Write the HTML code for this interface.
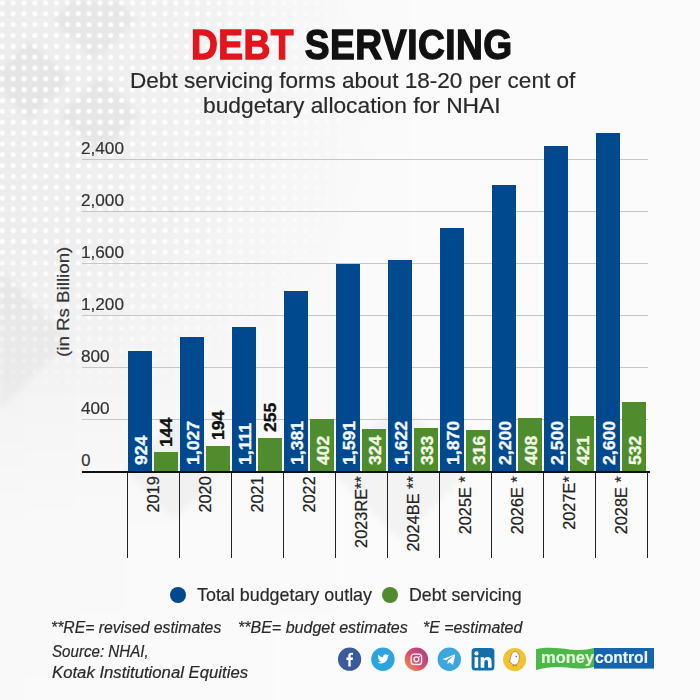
<!DOCTYPE html>
<html><head><meta charset="utf-8"><title>Debt Servicing</title>
<style>
html,body{margin:0;padding:0;}
body{width:700px;height:700px;position:relative;overflow:hidden;font-family:"Liberation Sans", sans-serif;background:#fbfbfb;}
.t{position:absolute;white-space:nowrap;transform-origin:0 0;-webkit-text-stroke:0.2px currentColor;}
.r{position:absolute;}
#bg{position:absolute;left:0;top:0;width:700px;height:700px;
 background: linear-gradient(90deg, rgba(0,0,0,0.03) 0px, rgba(0,0,0,0.02) 150px, rgba(0,0,0,0.008) 300px, rgba(0,0,0,0) 450px);
 -webkit-mask-image: linear-gradient(180deg, #000 0px, #000 380px, rgba(0,0,0,0.3) 520px, rgba(0,0,0,0.2) 700px);
 mask-image: linear-gradient(180deg, #000 0px, #000 380px, rgba(0,0,0,0.3) 520px, rgba(0,0,0,0.2) 700px);}
#shapes{position:absolute;left:0;top:0;width:700px;height:700px;filter:blur(2.5px);}
#dots{position:absolute;left:0;top:0;width:700px;height:700px;
 background-image: radial-gradient(circle, rgba(255,255,255,1) 1.9px, rgba(255,255,255,0) 3.2px);
 background-color: rgba(0,0,0,0.026);
 background-size:10.85px 10.85px; background-position:-3.1px -2.5px;
 -webkit-mask-image: radial-gradient(ellipse 300px 300px at 80px 110px, #000 0%, rgba(0,0,0,0.8) 50%, rgba(0,0,0,0) 100%);
 mask-image: radial-gradient(ellipse 300px 300px at 80px 110px, #000 0%, rgba(0,0,0,0.8) 50%, rgba(0,0,0,0) 100%);}
</style></head><body>
<div id="bg"></div><svg id="shapes" width="700" height="700" viewBox="0 0 700 700"><g fill="#000" fill-opacity="0.032"><polygon points="95,-22 137,20 95,62 53,20"/><polygon points="30,40 70,80 30,120 -10,80"/><polygon points="100,75 140,115 100,155 60,115"/><polygon points="0,270 70,340 0,410"/><polygon points="175,420 225,470 175,520 125,470"/><polygon points="400,400 470,470 400,540 330,470"/></g></svg><div id="dots"></div>
<div class="t" style="left:191.20px;top:23.33px;font-size:43.2px;line-height:43.2px;color:#111;font-weight:bold;font-style:normal;transform:scaleX(0.86);transform-origin:0 0;-webkit-text-stroke:1.4px currentColor;letter-spacing:0.55px;"><span style="color:#e3141b;-webkit-text-stroke:1.4px #e3141b">DEBT</span> SERVICING</div>
<div class="t" style="left:129.60px;top:70.58px;font-size:21.4px;line-height:21.4px;color:#2a2a2a;font-weight:normal;font-style:normal;transform:scaleX(1.055);transform-origin:0 0;">Debt servicing forms about 18-20 per cent of</div>
<div class="t" style="left:202.60px;top:96.28px;font-size:21.4px;line-height:21.4px;color:#2a2a2a;font-weight:normal;font-style:normal;transform:scaleX(1.065);transform-origin:0 0;">budgetary allocation for NHAI</div>
<div class="r" style="left:82px;top:419px;width:566px;height:1px;background:#c6c6c6"></div>
<div class="t" style="left:80.60px;top:400.03px;font-size:16.5px;line-height:16.5px;color:#333;font-weight:normal;font-style:normal;transform:scaleX(1.04);transform-origin:0 0;">400</div>
<div class="r" style="left:82px;top:367px;width:566px;height:1px;background:#c6c6c6"></div>
<div class="t" style="left:80.60px;top:348.03px;font-size:16.5px;line-height:16.5px;color:#333;font-weight:normal;font-style:normal;transform:scaleX(1.04);transform-origin:0 0;">800</div>
<div class="r" style="left:82px;top:315px;width:566px;height:1px;background:#c6c6c6"></div>
<div class="t" style="left:80.60px;top:296.03px;font-size:16.5px;line-height:16.5px;color:#333;font-weight:normal;font-style:normal;transform:scaleX(1.04);transform-origin:0 0;">1,200</div>
<div class="r" style="left:82px;top:263px;width:566px;height:1px;background:#c6c6c6"></div>
<div class="t" style="left:80.60px;top:244.03px;font-size:16.5px;line-height:16.5px;color:#333;font-weight:normal;font-style:normal;transform:scaleX(1.04);transform-origin:0 0;">1,600</div>
<div class="r" style="left:82px;top:211px;width:566px;height:1px;background:#c6c6c6"></div>
<div class="t" style="left:80.60px;top:192.03px;font-size:16.5px;line-height:16.5px;color:#333;font-weight:normal;font-style:normal;transform:scaleX(1.04);transform-origin:0 0;">2,000</div>
<div class="r" style="left:82px;top:159px;width:566px;height:1px;background:#c6c6c6"></div>
<div class="t" style="left:80.60px;top:140.03px;font-size:16.5px;line-height:16.5px;color:#333;font-weight:normal;font-style:normal;transform:scaleX(1.04);transform-origin:0 0;">2,400</div>
<div class="t" style="left:81.30px;top:452.03px;font-size:16.5px;line-height:16.5px;color:#333;font-weight:normal;font-style:normal;transform:scaleX(1.0);">0</div>
<div class="r" style="left:128px;top:350.88px;width:24px;height:120.12px;background:#00498f"></div>
<div class="r" style="left:154px;top:452.28px;width:24px;height:18.72px;background:#4e8c2e"></div>
<div class="r" style="left:127px;top:472px;width:1px;height:86px;background:#222"></div>
<div class="t" style="left:133.06px;top:464.90px;font-size:17.3px;line-height:17.3px;color:#f4f8ff;font-weight:bold;transform-origin:0 0;transform:rotate(-90deg) scaleX(1.02);-webkit-text-stroke:0.35px currentColor;">924</div>
<div class="t" style="left:158.36px;top:446.78px;font-size:17.3px;line-height:17.3px;color:#111;font-weight:bold;transform-origin:0 0;transform:rotate(-90deg) scaleX(1.02);-webkit-text-stroke:0.35px currentColor;">144</div>
<div class="t" style="left:145.23px;top:595.10px;width:120px;text-align:right;font-size:16.5px;line-height:16.5px;color:#222;font-weight:normal;transform-origin:0 0;transform:rotate(-90deg) scaleX(0.99);transform-origin:0 0;">2019</div>
<div class="r" style="left:180px;top:337.49px;width:24px;height:133.51px;background:#00498f"></div>
<div class="r" style="left:206px;top:445.78px;width:24px;height:25.22px;background:#4e8c2e"></div>
<div class="r" style="left:179px;top:472px;width:1px;height:86px;background:#222"></div>
<div class="t" style="left:185.06px;top:464.90px;font-size:17.3px;line-height:17.3px;color:#f4f8ff;font-weight:bold;transform-origin:0 0;transform:rotate(-90deg) scaleX(1.02);-webkit-text-stroke:0.35px currentColor;">1,027</div>
<div class="t" style="left:210.36px;top:440.28px;font-size:17.3px;line-height:17.3px;color:#111;font-weight:bold;transform-origin:0 0;transform:rotate(-90deg) scaleX(1.02);-webkit-text-stroke:0.35px currentColor;">194</div>
<div class="t" style="left:197.23px;top:595.10px;width:120px;text-align:right;font-size:16.5px;line-height:16.5px;color:#222;font-weight:normal;transform-origin:0 0;transform:rotate(-90deg) scaleX(0.99);transform-origin:0 0;">2020</div>
<div class="r" style="left:232px;top:326.57px;width:24px;height:144.43px;background:#00498f"></div>
<div class="r" style="left:258px;top:437.85px;width:24px;height:33.15px;background:#4e8c2e"></div>
<div class="r" style="left:231px;top:472px;width:1px;height:86px;background:#222"></div>
<div class="t" style="left:237.06px;top:464.90px;font-size:17.3px;line-height:17.3px;color:#f4f8ff;font-weight:bold;transform-origin:0 0;transform:rotate(-90deg) scaleX(1.02);-webkit-text-stroke:0.35px currentColor;">1,111</div>
<div class="t" style="left:262.36px;top:432.35px;font-size:17.3px;line-height:17.3px;color:#111;font-weight:bold;transform-origin:0 0;transform:rotate(-90deg) scaleX(1.02);-webkit-text-stroke:0.35px currentColor;">255</div>
<div class="t" style="left:249.23px;top:595.10px;width:120px;text-align:right;font-size:16.5px;line-height:16.5px;color:#222;font-weight:normal;transform-origin:0 0;transform:rotate(-90deg) scaleX(0.99);transform-origin:0 0;">2021</div>
<div class="r" style="left:284px;top:291.47px;width:24px;height:179.53px;background:#00498f"></div>
<div class="r" style="left:310px;top:418.74px;width:24px;height:52.26px;background:#4e8c2e"></div>
<div class="r" style="left:283px;top:472px;width:1px;height:86px;background:#222"></div>
<div class="t" style="left:289.06px;top:464.90px;font-size:17.3px;line-height:17.3px;color:#f4f8ff;font-weight:bold;transform-origin:0 0;transform:rotate(-90deg) scaleX(1.02);-webkit-text-stroke:0.35px currentColor;">1,381</div>
<div class="t" style="left:314.66px;top:464.90px;font-size:17.3px;line-height:17.3px;color:#f2f7e6;font-weight:bold;transform-origin:0 0;transform:rotate(-90deg) scaleX(1.02);-webkit-text-stroke:0.35px currentColor;">402</div>
<div class="t" style="left:301.23px;top:595.10px;width:120px;text-align:right;font-size:16.5px;line-height:16.5px;color:#222;font-weight:normal;transform-origin:0 0;transform:rotate(-90deg) scaleX(0.99);transform-origin:0 0;">2022</div>
<div class="r" style="left:336px;top:264.17px;width:24px;height:206.83px;background:#00498f"></div>
<div class="r" style="left:362px;top:428.88px;width:24px;height:42.12px;background:#4e8c2e"></div>
<div class="r" style="left:335px;top:472px;width:1px;height:86px;background:#222"></div>
<div class="t" style="left:341.06px;top:464.90px;font-size:17.3px;line-height:17.3px;color:#f4f8ff;font-weight:bold;transform-origin:0 0;transform:rotate(-90deg) scaleX(1.02);-webkit-text-stroke:0.35px currentColor;">1,591</div>
<div class="t" style="left:366.66px;top:464.90px;font-size:17.3px;line-height:17.3px;color:#f2f7e6;font-weight:bold;transform-origin:0 0;transform:rotate(-90deg) scaleX(1.02);-webkit-text-stroke:0.35px currentColor;">324</div>
<div class="t" style="left:353.23px;top:595.10px;width:120px;text-align:right;font-size:16.5px;line-height:16.5px;color:#222;font-weight:normal;transform-origin:0 0;transform:rotate(-90deg) scaleX(0.99);transform-origin:0 0;">2023RE**</div>
<div class="r" style="left:388px;top:260.14px;width:24px;height:210.86px;background:#00498f"></div>
<div class="r" style="left:414px;top:427.71px;width:24px;height:43.29px;background:#4e8c2e"></div>
<div class="r" style="left:387px;top:472px;width:1px;height:86px;background:#222"></div>
<div class="t" style="left:393.06px;top:464.90px;font-size:17.3px;line-height:17.3px;color:#f4f8ff;font-weight:bold;transform-origin:0 0;transform:rotate(-90deg) scaleX(1.02);-webkit-text-stroke:0.35px currentColor;">1,622</div>
<div class="t" style="left:418.66px;top:464.90px;font-size:17.3px;line-height:17.3px;color:#f2f7e6;font-weight:bold;transform-origin:0 0;transform:rotate(-90deg) scaleX(1.02);-webkit-text-stroke:0.35px currentColor;">333</div>
<div class="t" style="left:405.23px;top:595.10px;width:120px;text-align:right;font-size:16.5px;line-height:16.5px;color:#222;font-weight:normal;transform-origin:0 0;transform:rotate(-90deg) scaleX(0.99);transform-origin:0 0;">2024BE **</div>
<div class="r" style="left:440px;top:227.90px;width:24px;height:243.10px;background:#00498f"></div>
<div class="r" style="left:466px;top:429.92px;width:24px;height:41.08px;background:#4e8c2e"></div>
<div class="r" style="left:439px;top:472px;width:1px;height:86px;background:#222"></div>
<div class="t" style="left:445.06px;top:464.90px;font-size:17.3px;line-height:17.3px;color:#f4f8ff;font-weight:bold;transform-origin:0 0;transform:rotate(-90deg) scaleX(1.02);-webkit-text-stroke:0.35px currentColor;">1,870</div>
<div class="t" style="left:470.66px;top:464.90px;font-size:17.3px;line-height:17.3px;color:#f2f7e6;font-weight:bold;transform-origin:0 0;transform:rotate(-90deg) scaleX(1.02);-webkit-text-stroke:0.35px currentColor;">316</div>
<div class="t" style="left:457.23px;top:595.10px;width:120px;text-align:right;font-size:16.5px;line-height:16.5px;color:#222;font-weight:normal;transform-origin:0 0;transform:rotate(-90deg) scaleX(0.99);transform-origin:0 0;">2025E *</div>
<div class="r" style="left:492px;top:185.00px;width:24px;height:286.00px;background:#00498f"></div>
<div class="r" style="left:518px;top:417.96px;width:24px;height:53.04px;background:#4e8c2e"></div>
<div class="r" style="left:491px;top:472px;width:1px;height:86px;background:#222"></div>
<div class="t" style="left:497.06px;top:464.90px;font-size:17.3px;line-height:17.3px;color:#f4f8ff;font-weight:bold;transform-origin:0 0;transform:rotate(-90deg) scaleX(1.02);-webkit-text-stroke:0.35px currentColor;">2,200</div>
<div class="t" style="left:522.66px;top:464.90px;font-size:17.3px;line-height:17.3px;color:#f2f7e6;font-weight:bold;transform-origin:0 0;transform:rotate(-90deg) scaleX(1.02);-webkit-text-stroke:0.35px currentColor;">408</div>
<div class="t" style="left:509.23px;top:595.10px;width:120px;text-align:right;font-size:16.5px;line-height:16.5px;color:#222;font-weight:normal;transform-origin:0 0;transform:rotate(-90deg) scaleX(0.99);transform-origin:0 0;">2026E *</div>
<div class="r" style="left:544px;top:146.00px;width:24px;height:325.00px;background:#00498f"></div>
<div class="r" style="left:570px;top:416.27px;width:24px;height:54.73px;background:#4e8c2e"></div>
<div class="r" style="left:543px;top:472px;width:1px;height:86px;background:#222"></div>
<div class="t" style="left:549.06px;top:464.90px;font-size:17.3px;line-height:17.3px;color:#f4f8ff;font-weight:bold;transform-origin:0 0;transform:rotate(-90deg) scaleX(1.02);-webkit-text-stroke:0.35px currentColor;">2,500</div>
<div class="t" style="left:574.66px;top:464.90px;font-size:17.3px;line-height:17.3px;color:#f2f7e6;font-weight:bold;transform-origin:0 0;transform:rotate(-90deg) scaleX(1.02);-webkit-text-stroke:0.35px currentColor;">421</div>
<div class="t" style="left:561.23px;top:595.10px;width:120px;text-align:right;font-size:16.5px;line-height:16.5px;color:#222;font-weight:normal;transform-origin:0 0;transform:rotate(-90deg) scaleX(0.99);transform-origin:0 0;">2027E*</div>
<div class="r" style="left:596px;top:133.00px;width:24px;height:338.00px;background:#00498f"></div>
<div class="r" style="left:622px;top:401.84px;width:24px;height:69.16px;background:#4e8c2e"></div>
<div class="r" style="left:595px;top:472px;width:1px;height:86px;background:#222"></div>
<div class="t" style="left:601.06px;top:464.90px;font-size:17.3px;line-height:17.3px;color:#f4f8ff;font-weight:bold;transform-origin:0 0;transform:rotate(-90deg) scaleX(1.02);-webkit-text-stroke:0.35px currentColor;">2,600</div>
<div class="t" style="left:626.66px;top:464.90px;font-size:17.3px;line-height:17.3px;color:#f2f7e6;font-weight:bold;transform-origin:0 0;transform:rotate(-90deg) scaleX(1.02);-webkit-text-stroke:0.35px currentColor;">532</div>
<div class="t" style="left:613.23px;top:595.10px;width:120px;text-align:right;font-size:16.5px;line-height:16.5px;color:#222;font-weight:normal;transform-origin:0 0;transform:rotate(-90deg) scaleX(0.99);transform-origin:0 0;">2028E *</div>
<div class="r" style="left:127px;top:557px;width:0;height:0"></div>
<div class="r" style="left:82px;top:471px;width:568px;height:2px;background:#111"></div>
<div class="r" style="left:647px;top:472px;width:1px;height:86px;background:#222"></div>
<div class="t" style="left:54.63px;top:356.50px;font-size:16.5px;line-height:16.5px;color:#333;font-weight:normal;transform-origin:0 0;transform:rotate(-90deg) scaleX(1.135);">(in Rs Billion)</div>
<div class="r" style="left:170px;top:587px;width:16.3px;height:16.3px;border-radius:50%;background:#00498f"></div>
<div class="t" style="left:196.50px;top:585.66px;font-size:18.6px;line-height:18.6px;color:#2a2a2a;font-weight:normal;font-style:normal;transform:scaleX(0.962);transform-origin:0 0;">Total budgetary outlay</div>
<div class="r" style="left:382.2px;top:587px;width:16.3px;height:16.3px;border-radius:50%;background:#4e8c2e"></div>
<div class="t" style="left:409.00px;top:585.66px;font-size:18.6px;line-height:18.6px;color:#2a2a2a;font-weight:normal;font-style:normal;transform:scaleX(0.955);transform-origin:0 0;">Debt servicing</div>
<div class="t" style="left:51.20px;top:619.53px;font-size:15.8px;line-height:15.8px;color:#2a2a2a;font-weight:normal;font-style:italic;transform:scaleX(0.997);transform-origin:0 0;">**RE= revised estimates</div>
<div class="t" style="left:237.70px;top:619.53px;font-size:15.8px;line-height:15.8px;color:#2a2a2a;font-weight:normal;font-style:italic;transform:scaleX(1.015);transform-origin:0 0;">**BE= budget estimates</div>
<div class="t" style="left:422.60px;top:619.53px;font-size:15.8px;line-height:15.8px;color:#2a2a2a;font-weight:normal;font-style:italic;transform:scaleX(1.005);transform-origin:0 0;">*E =estimated</div>
<div class="t" style="left:51.70px;top:643.83px;font-size:15.8px;line-height:15.8px;color:#2a2a2a;font-weight:normal;font-style:italic;transform:scaleX(0.958);transform-origin:0 0;">Source: NHAI,</div>
<div class="t" style="left:51.70px;top:664.63px;font-size:15.8px;line-height:15.8px;color:#2a2a2a;font-weight:normal;font-style:italic;transform:scaleX(1.058);transform-origin:0 0;">Kotak Institutional Equities</div>

<svg class="r" style="left:0;top:0" width="700" height="700" viewBox="0 0 700 700">
  <defs>
    <linearGradient id="ig" x1="0" y1="1" x2="1" y2="0">
      <stop offset="0" stop-color="#f2a23c"/><stop offset="0.45" stop-color="#d8506e"/><stop offset="1" stop-color="#a53d8c"/>
    </linearGradient>
  </defs>
  <!-- facebook -->
  <circle cx="349.6" cy="659.2" r="11.6" fill="#3b5a99"/>
  <path d="M348.3 666.6v-6.6h-1.9v-2.4h1.9v-1.8c0-2 1.2-3.1 3-3.1 0.8 0 1.5 0.1 1.7 0.1v2h-1.2c-0.9 0-1.1 0.5-1.1 1.1v1.7h2.3l-0.3 2.4h-2v6.6z" fill="#fff"/>
  <!-- twitter -->
  <circle cx="382.9" cy="659.3" r="11.7" fill="#2aa5df"/>
  <g transform="translate(382.9 659.3) scale(0.82) translate(-382.9 -659.3) translate(0.3 0.2)"><path d="M390.2 654.2c-0.5 0.2-1.1 0.4-1.7 0.5 0.6-0.4 1.1-0.9 1.3-1.6-0.6 0.3-1.2 0.6-1.9 0.7-0.5-0.6-1.3-0.9-2.1-0.9-1.6 0-2.9 1.3-2.9 2.9 0 0.2 0 0.5 0.1 0.7-2.4-0.1-4.6-1.3-6-3.1-0.3 0.4-0.4 0.9-0.4 1.5 0 1 0.5 1.9 1.3 2.4-0.5 0-0.9-0.2-1.3-0.4 0 1.4 1 2.6 2.3 2.9-0.4 0.1-0.9 0.1-1.3 0 0.4 1.2 1.4 2 2.7 2-1 0.8-2.2 1.2-3.6 1.2-0.2 0-0.5 0-0.7 0 1.3 0.8 2.8 1.3 4.4 1.3 5.3 0 8.2-4.4 8.2-8.2v-0.4c0.6-0.4 1.1-0.9 1.5-1.5z" fill="#fff"/></g>
  <!-- instagram -->
  <circle cx="416.4" cy="659.3" r="11.7" fill="url(#ig)"/>
  <rect x="411.2" y="654.1" width="10.4" height="10.4" rx="2.8" fill="none" stroke="#fbeff4" stroke-width="1.4"/>
  <circle cx="416.4" cy="659.3" r="2.4" fill="none" stroke="#fbeff4" stroke-width="1.4"/>
  <circle cx="419.4" cy="656.4" r="0.7" fill="#fbeff4"/>
  <!-- telegram -->
  <circle cx="449.3" cy="659.3" r="11.7" fill="#3aa8de"/>
  <g transform="translate(449.3 659.3) scale(0.85) translate(-449.3 -659.3) translate(0.4 0)"><path d="M442.2 658.8l12.6-5.2c0.6-0.2 1.1 0.1 0.9 0.9l-2.1 10.2c-0.2 0.7-0.6 0.9-1.2 0.6l-3.3-2.5-1.6 1.6c-0.2 0.2-0.3 0.3-0.7 0.3l0.2-3.4 6.2-5.6c0.3-0.3-0.1-0.4-0.4-0.2l-7.7 4.8-3.3-1c-0.7-0.2-0.7-0.7 0.1-1z" fill="#fff"/></g>
  <!-- linkedin -->
  <rect x="471.6" y="648.0" width="22.8" height="22.6" rx="3.5" fill="#1170aa"/>
  <rect x="474.6" y="657.2" width="3.6" height="10.6" fill="#fff"/>
  <circle cx="476.4" cy="653.4" r="2.1" fill="#fff"/>
  <path d="M480.6 657.2h3.4v1.5c0.5-0.9 1.7-1.8 3.4-1.8 3.6 0 4.2 2.3 4.2 5.3v5.6h-3.6v-5c0-1.2 0-2.7-1.7-2.7s-2 1.3-2 2.6v5.1h-3.6z" fill="#fff"/>
  <!-- koo -->
  <circle cx="514.6" cy="659.6" r="11.5" fill="#f4c22f"/>
  <path d="M515.3 651.6c2.4 0 4 2.6 4 6.3 0 3.8-2 7-4.6 7-2 0-3.6-1.2-4.3-3l-1.6-0.4 1.4-1.2c0-0.3 0-0.6 0.1-0.9 0.3-4.6 2.3-7.8 5-7.8z" fill="#fff" stroke="#6b5a3a" stroke-width="0.55"/>
  <circle cx="516.3" cy="656.6" r="0.7" fill="#445"/>
  <path d="M513.6 664.8l-0.2 1.8M516 664.7l0.3 1.8" stroke="#5a6a3a" stroke-width="0.8"/>
  <!-- moneycontrol -->
  <path d="M536 649.2c10 -2.4 22 -1.2 34 0.2 c9 1 17 0.6 24 -1.4 V667 c-9 2 -18 1.8 -27 0.6 c-11 -1.4 -21 -0.2 -31 2.3z" fill="#4db84a"/>
  <rect x="594" y="648" width="60" height="20.6" fill="#1663ae"/>
</svg>
<div class="t" style="left:540.50px;top:649.41px;font-size:17.0px;line-height:17.0px;color:#e6f6dc;font-weight:bold;font-style:normal;transform:scaleX(0.97);transform-origin:0 0;letter-spacing:0;">money</div>
<div class="t" style="left:594.80px;top:649.21px;font-size:17.0px;line-height:17.0px;color:#eef6ff;font-weight:bold;font-style:normal;transform:scaleX(0.92);transform-origin:0 0;">control</div>
</body></html>
